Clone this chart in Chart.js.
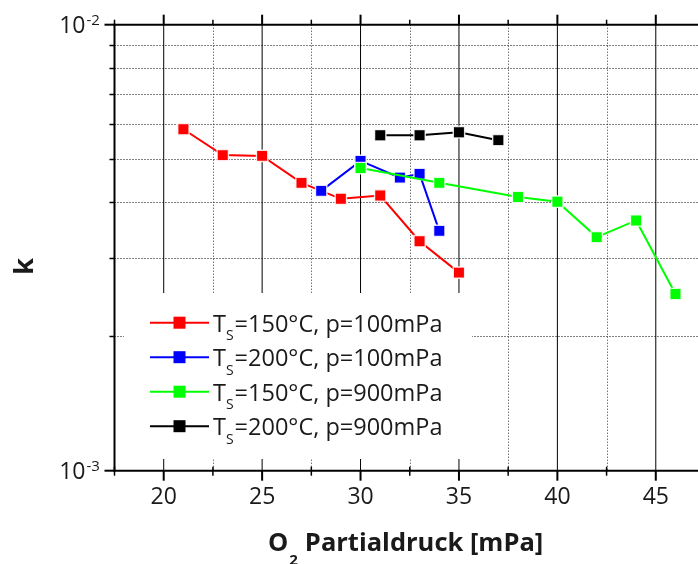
<!DOCTYPE html>
<html>
<head>
<meta charset="utf-8">
<script src="https://cdn.jsdelivr.net/npm/chart.js@4.4.1/dist/chart.umd.min.js"></script>
<style>
  html, body { margin: 0; padding: 0; background: #fff; overflow: hidden; }
  #moldura { width: 698px; height: 564px; overflow: hidden; }
  canvas { display: block; }
</style>
</head>
<body>
<div id="moldura"><canvas id="graficoK" width="705" height="564"></canvas></div>
<script>
// dados (x em mPa, k adimensional)
const xTs150p100 = [21, 23, 25, 27, 29, 31, 33, 35];
const kTs150p100 = [5.83e-3, 5.10e-3, 5.08e-3, 4.42e-3, 4.07e-3, 4.14e-3, 3.27e-3, 2.78e-3];

const xTs200p100 = [28, 30, 32, 33, 34];
const kTs200p100 = [4.24e-3, 4.95e-3, 4.54e-3, 4.63e-3, 3.45e-3];

const xTs150p900 = [30, 34, 38, 40, 42, 44, 46];
const kTs150p900 = [4.77e-3, 4.42e-3, 4.11e-3, 4.01e-3, 3.34e-3, 3.64e-3, 2.49e-3];

const xTs200p900 = [31, 33, 35, 37];
const kTs200p900 = [5.65e-3, 5.65e-3, 5.74e-3, 5.51e-3];

// legenda: temperatura do substrato e pressao
const temperaturas = ['150', '200', '150', '200'];
const pressoes = ['100', '100', '900', '900'];
const cores = ['#ff0000', '#0000ff', '#00ff00', '#000000'];

// ticks dos eixos
const xTicksMaiores = [20, 25, 30, 35, 40, 45];
const xTicksMenores = [22.5, 27.5, 32.5, 37.5, 42.5];
const yTicksMaiores = [1e-3, 1e-2];
const yExpoentes = ['-3', '-2'];
const yTicksMenores = [2e-3, 3e-3, 4e-3, 5e-3, 6e-3, 7e-3, 8e-3, 9e-3];

const fonte = '"Open Sans", "Noto Sans", sans-serif';
const corTexto = '#1a1a1a';

function pares(xs, ys) {
    return xs.map((v, i) => ({ x: v, y: ys[i] }));
}

function serie(xs, ys, i) {
    return {
        data: pares(xs, ys),
        borderColor: cores[i],
        backgroundColor: cores[i],
        borderWidth: 2,
        pointStyle: 'rect',
        pointRadius: 8,
        pointBorderWidth: 1.4,
        pointBorderColor: 'rgba(255,255,255,0.85)',
        pointBackgroundColor: cores[i],
        tension: 0,
        order: 4 - i
    };
}

function linha(ctx, x1, y1, x2, y2) {
    ctx.beginPath();
    ctx.moveTo(x1, y1);
    ctx.lineTo(x2, y2);
    ctx.stroke();
}

const pluginEixos = {
    id: 'eixos',
    beforeDatasetsDraw(chart) {
        const { ctx, chartArea: a, scales: { x, y } } = chart;
        ctx.save();
        ctx.lineWidth = 1;
        // grade horizontal pontilhada
        ctx.strokeStyle = '#000';
        ctx.setLineDash([1, 2]);
        yTicksMenores.forEach(v => {
            const py = Math.round(y.getPixelForValue(v)) + 0.5;
            linha(ctx, a.left, py, a.right, py);
        });
        // grade vertical menor
        ctx.strokeStyle = '#333';
        xTicksMenores.forEach(v => {
            const px = Math.round(x.getPixelForValue(v)) + 0.5;
            linha(ctx, px, a.top, px, a.bottom);
        });
        // grade vertical maior
        ctx.setLineDash([]);
        ctx.strokeStyle = '#000';
        xTicksMaiores.forEach(v => {
            const px = x.getPixelForValue(v);
            linha(ctx, px, a.top, px, a.bottom);
        });
        ctx.restore();
    },
    afterDatasetsDraw(chart) {
        const ctx = chart.ctx;
        ctx.save();
        // caixa da legenda (sem borda)
        ctx.fillStyle = '#fff';
        ctx.fillRect(124, 293, 348, 166);
        cores.forEach((cor, i) => {
            const yc = 322.7 + i * 34.5;
            ctx.strokeStyle = cor;
            ctx.lineWidth = 2;
            linha(ctx, 150, yc, 209, yc);
            ctx.fillStyle = cor;
            ctx.fillRect(173.5, yc - 6, 12, 12);
            ctx.fillStyle = corTexto;
            ctx.textAlign = 'left';
            ctx.textBaseline = 'alphabetic';
            let px = 213;
            ctx.font = '23.5px ' + fonte;
            ctx.fillText('T', px, yc + 9);
            px += ctx.measureText('T').width;
            ctx.font = '14px ' + fonte;
            ctx.fillText('S', px, yc + 17.5);
            px += ctx.measureText('S').width + 1;
            ctx.font = '23.5px ' + fonte;
            ctx.fillText('=' + temperaturas[i] + '°C, p=' + pressoes[i] + 'mPa', px, yc + 9);
        });
        ctx.restore();
    },
    afterDraw(chart) {
        const { ctx, chartArea: a, scales: { x, y } } = chart;
        ctx.save();
        ctx.strokeStyle = '#000';
        ctx.lineWidth = 2;
        // eixos
        linha(ctx, a.left, a.top - 1, a.left, a.bottom + 1);
        linha(ctx, a.left - 1, a.top, a.right, a.top);
        linha(ctx, a.left - 1, a.bottom, a.right, a.bottom);
        // ticks x
        xTicksMaiores.forEach(v => {
            const px = x.getPixelForValue(v);
            linha(ctx, px, a.top - 10, px, a.top);
            linha(ctx, px, a.bottom, px, a.bottom + 10);
        });
        ctx.lineWidth = 1.5;
        xTicksMenores.concat([17.5]).forEach(v => {
            const px = x.getPixelForValue(v);
            linha(ctx, px, a.top - 5, px, a.top);
            linha(ctx, px, a.bottom - 4, px, a.bottom + 5);
        });
        // ticks y
        ctx.lineWidth = 2;
        yTicksMaiores.forEach(v => {
            const py = y.getPixelForValue(v);
            linha(ctx, a.left - 10, py, a.left, py);
        });
        ctx.lineWidth = 1.5;
        yTicksMenores.forEach(v => {
            const py = Math.round(y.getPixelForValue(v)) + 0.5;
            linha(ctx, a.left - 5, py, a.left, py);
        });

        // rotulos x
        ctx.fillStyle = corTexto;
        ctx.font = '23px ' + fonte;
        ctx.textAlign = 'center';
        ctx.textBaseline = 'alphabetic';
        xTicksMaiores.forEach(v => {
            ctx.fillText(String(v), x.getPixelForValue(v), 504);
        });
        // rotulos y (10 com expoente)
        yTicksMaiores.forEach((v, i) => {
            const py = y.getPixelForValue(v);
            ctx.font = '23px ' + fonte;
            ctx.textAlign = 'right';
            ctx.fillText('10', 85.5, py + 8.5);
            ctx.font = '15px ' + fonte;
            ctx.textAlign = 'left';
            ctx.fillText(yExpoentes[i], 86.5, py + 0.5);
        });

        // titulo x: O2 Partialdruck [mPa]
        ctx.textAlign = 'left';
        let px = 268;
        ctx.font = 'bold 25.5px ' + fonte;
        ctx.fillText('O', px, 551);
        px += ctx.measureText('O').width;
        ctx.font = 'bold 15px ' + fonte;
        ctx.fillText('2', px + 1, 565);
        px += ctx.measureText('2').width + 8;
        ctx.font = 'bold 25.5px ' + fonte;
        ctx.fillText('Partialdruck [mPa]', px, 551);

        // titulo y: k
        ctx.translate(33.3, 266.3);
        ctx.rotate(-Math.PI / 2);
        ctx.textAlign = 'center';
        ctx.font = 'bold 27px ' + fonte;
        ctx.fillText('k', 0, 0);
        ctx.restore();
    }
};

const grafico = new Chart(document.getElementById('graficoK').getContext('2d'), {
    type: 'line',
    data: {
        datasets: [
            serie(xTs150p100, kTs150p100, 0),
            serie(xTs200p100, kTs200p100, 1),
            serie(xTs150p900, kTs150p900, 2),
            serie(xTs200p900, kTs200p900, 3)
        ]
    },
    options: {
        responsive: false,
        animation: false,
        layout: {
            autoPadding: false,
            padding: { left: 114.5, top: 24.7, right: 0, bottom: 93.3 }
        },
        scales: {
            x: { type: 'linear', min: 17.5, max: 47.5, display: false },
            y: { type: 'logarithmic', min: 1e-3, max: 1e-2, display: false }
        },
        plugins: {
            legend: { display: false },
            tooltip: { enabled: false }
        }
    },
    plugins: [pluginEixos]
});
</script>
</body>
</html>
